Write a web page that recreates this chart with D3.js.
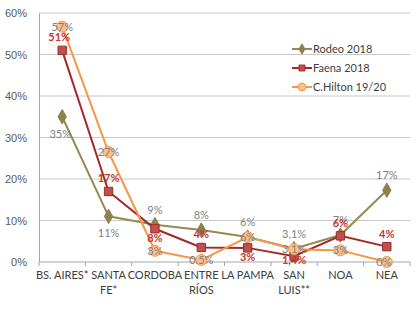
<!DOCTYPE html>
<html>
<head>
<meta charset="utf-8">
<script src="https://cdn.jsdelivr.net/npm/d3@7"></script>
<style>
  body { margin: 0; background: #fff; }
  svg { font-family: Lato, "Liberation Sans", sans-serif; }
</style>
</head>
<body>
<div id="chart"></div>
<script>
// categories (second element = second line of the label)
const categories = [
  ['BS. AIRES*'], ['SANTA', 'FE*'], ['CORDOBA'], ['ENTRE', 'RÍOS'],
  ['LA PAMPA'], ['SAN', 'LUIS**'], ['NOA'], ['NEA']
];
const rodeo = [35, 11, 9, 7.7, 6, 3.2, 6.5, 17.3];
const rodeoLabels = ['35%', '11%', '9%', '8%', '6%', '3,1%', '7%', '17%'];
const faena = [51, 17, 8, 3.5, 3.4, 1.4, 6.3, 3.7];
const faenaLabels = ['51%', '17%', '8%', '4%', '3%', '1,4%', '6%', '4%'];
const hilton = [56.7, 26.5, 2.7, 0.5, 6, 3.1, 2.8, 0];
const hiltonLabels = ['57%', '27%', '3%', '0.5%', '6%', '3,1%', '3%', '0%'];
const yTicks = [0, 10, 20, 30, 40, 50, 60];

const W = 420, H = 312;
const margin = { top: 13, right: 10, bottom: 50, left: 39 };

const svg = d3.select('#chart').append('svg')
  .attr('width', W).attr('height', H);

const x = d3.scaleBand()
  .domain(d3.range(categories.length))
  .range([margin.left, W - margin.right]);

const y = d3.scaleLinear()
  .domain([0, 60])
  .range([H - margin.bottom, margin.top]);

// gridlines
svg.append('g')
  .selectAll('line')
  .data(yTicks)
  .join('line')
  .attr('x1', margin.left).attr('x2', W - margin.right)
  .attr('y1', d => y(d)).attr('y2', d => y(d))
  .attr('stroke', d => d === 0 ? '#a6a6a6' : '#c8c8c8')
  .attr('stroke-width', 1);

// y axis
const yAxis = svg.append('g')
  .attr('transform', `translate(${margin.left},0)`)
  .call(d3.axisLeft(y).tickValues(yTicks).tickFormat(d => d + '%').tickSize(0).tickPadding(12));
yAxis.select('.domain').attr('stroke', '#a6a6a6');
yAxis.selectAll('text').style('font-size', '11px').attr('fill', '#595959');

// x axis
const xAxis = svg.append('g')
  .attr('transform', `translate(0,${y(0)})`);
xAxis.selectAll('line')
  .data(d3.range(categories.length + 1))
  .join('line')
  .attr('x1', i => margin.left + i * x.bandwidth())
  .attr('x2', i => margin.left + i * x.bandwidth())
  .attr('y1', 0).attr('y2', 4)
  .attr('stroke', '#a6a6a6');
xAxis.selectAll('text')
  .data(categories)
  .join('text')
  .attr('x', (d, i) => x(i) + x.bandwidth() / 2)
  .attr('y', 17)
  .attr('text-anchor', 'middle')
  .style('font-size', '11px')
  .attr('fill', '#404040')
  .selectAll('tspan')
  .data(d => d)
  .join('tspan')
  .attr('x', function () { return d3.select(this.parentNode).attr('x'); })
  .attr('dy', (d, i) => i === 0 ? 0 : 15)
  .text(d => d);

const cx = i => x(i) + x.bandwidth() / 2;
const line = d3.line().x((d, i) => cx(i)).y(d => y(d));

const series = [
  { name: 'Rodeo 2018', data: rodeo, line: '#948a54', fill: '#8c8149', stroke: '#8c8149', shape: d3.symbolDiamond, size: 60 },
  { name: 'Faena 2018', data: faena, line: '#a3282b', fill: '#c0504d', stroke: '#9b2d2a', shape: d3.symbolSquare, size: 70 },
  { name: 'C.Hilton 19/20', data: hilton, line: '#f79646', fill: '#fac090', stroke: '#f79646', shape: d3.symbolCircle, size: 95 }
];

series.forEach(s => {
  const g = svg.append('g');
  g.append('path')
    .datum(s.data)
    .attr('d', line)
    .attr('fill', 'none')
    .attr('stroke', s.line)
    .attr('stroke-width', 2);
  g.selectAll('path.m')
    .data(s.data)
    .join('path')
    .attr('class', 'm')
    .attr('d', d3.symbol().type(s.shape).size(s.size))
    .attr('transform', (d, i) => `translate(${cx(i)},${y(d)})`)
    .attr('fill', s.fill)
    .attr('stroke', s.stroke)
    .attr('stroke-width', 1);
});

// data labels
const rodeoPos = ['below', 'below', 'above', 'above', 'above', 'above', 'above', 'above'];
svg.append('g').selectAll('text')
  .data(rodeo)
  .join('text')
  .attr('x', (d, i) => cx(i) - (i === 0 ? 2 : 0))
  .attr('y', (d, i) => rodeoPos[i] === 'below' ? y(d) + 21 : y(d) - 11)
  .attr('text-anchor', 'middle')
  .style('font-size', '11px')
  .attr('fill', '#7f7f7f')
  .text((d, i) => rodeoLabels[i]);

const faenaPos = ['above', 'above', 'below', 'above', 'below', 'center', 'above', 'above'];
svg.append('g').selectAll('text')
  .data(faena)
  .join('text')
  .attr('x', (d, i) => cx(i) - (i === 0 ? 3 : 0))
  .attr('y', (d, i) => faenaPos[i] === 'below' ? y(d) + 13 : faenaPos[i] === 'center' ? y(d) + 8 : y(d) - 9)
  .attr('text-anchor', 'middle')
  .style('font-size', '11px')
  .style('font-weight', 'bold')
  .attr('fill', '#c0392b')
  .text((d, i) => faenaLabels[i]);

svg.append('g').selectAll('text')
  .data(hilton)
  .join('text')
  .attr('x', (d, i) => cx(i) - (i === 7 ? 3 : 0))
  .attr('y', (d, i) => y(d) + 4)
  .attr('text-anchor', 'middle')
  .style('font-size', '11px')
  .attr('fill', '#7f7f7f')
  .text((d, i) => hiltonLabels[i]);

// legend
const legend = svg.append('g').attr('transform', 'translate(292,49)');
series.forEach((s, i) => {
  const row = legend.append('g').attr('transform', `translate(0,${i * 19})`);
  row.append('line')
    .attr('x1', 0).attr('x2', 20).attr('y1', 0).attr('y2', 0)
    .attr('stroke', s.line).attr('stroke-width', 2);
  row.append('path')
    .attr('d', d3.symbol().type(s.shape).size(s.size * 0.5))
    .attr('transform', 'translate(10,0)')
    .attr('fill', s.fill).attr('stroke', s.stroke);
  row.append('text')
    .attr('x', 21).attr('y', 4)
    .style('font-size', '11px')
    .attr('fill', '#404040')
    .text(s.name);
});
</script>
</body>
</html>
